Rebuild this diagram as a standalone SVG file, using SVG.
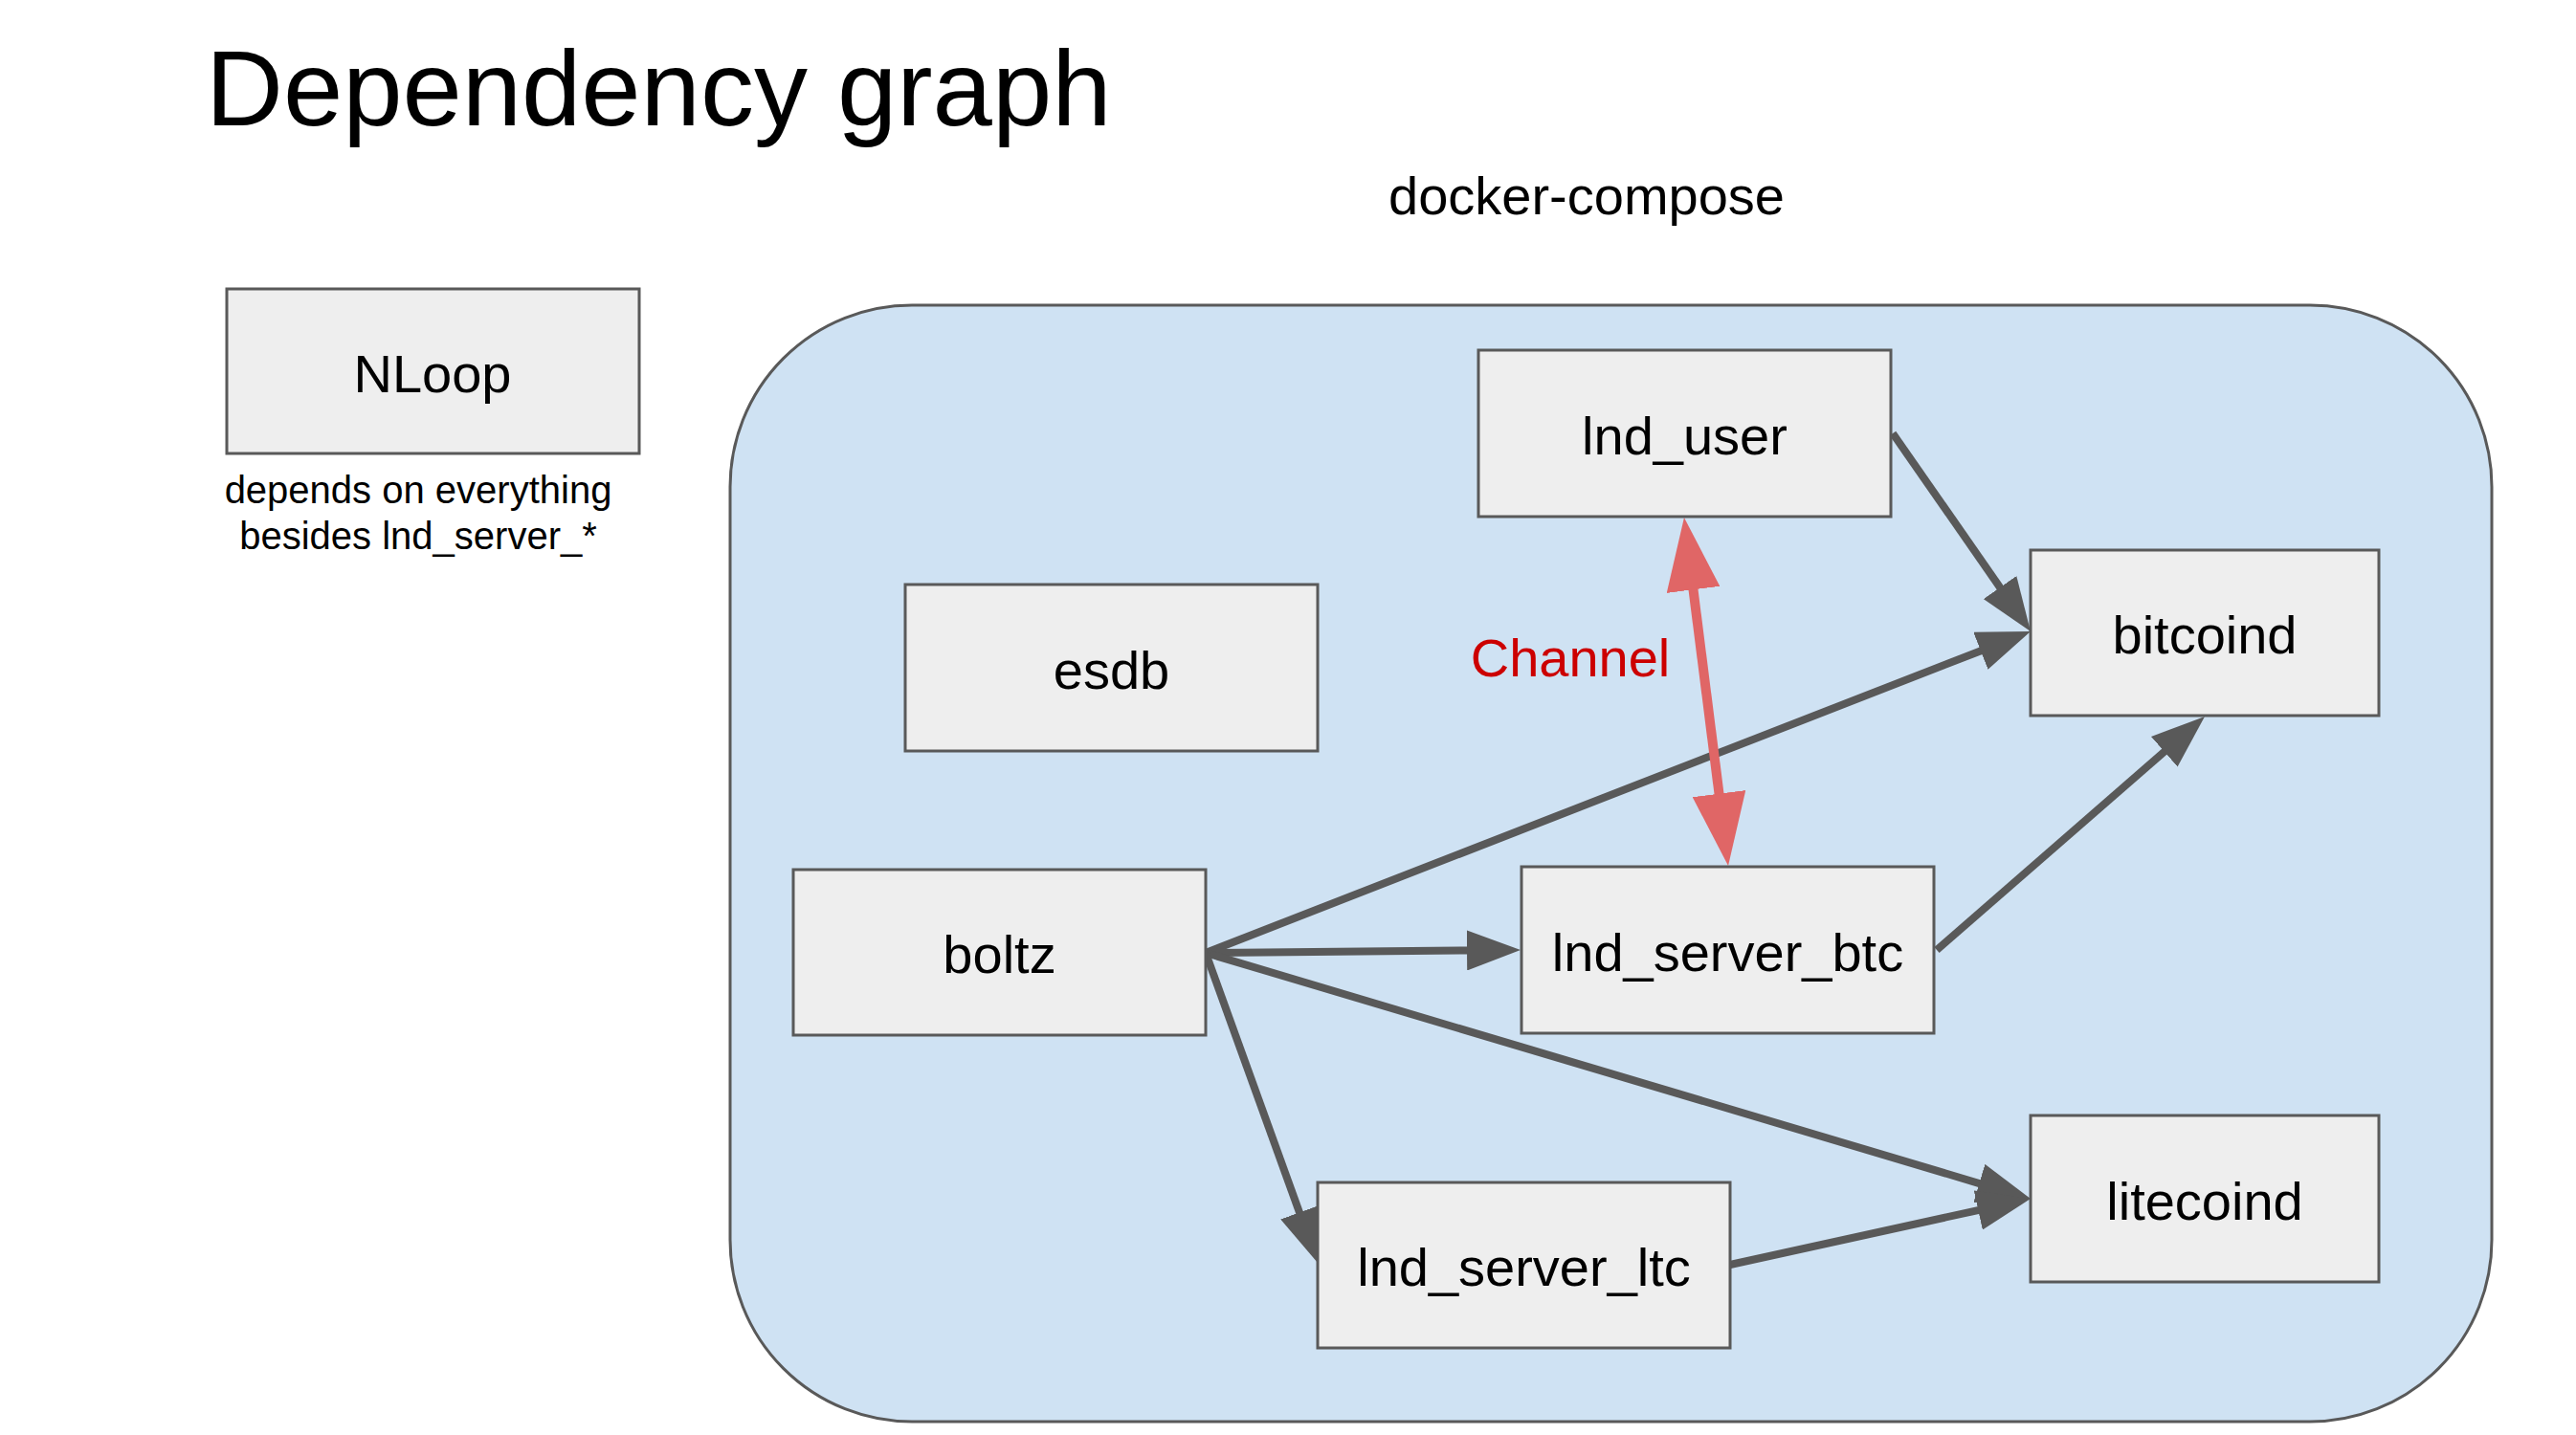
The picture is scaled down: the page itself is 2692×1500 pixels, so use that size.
<svg xmlns="http://www.w3.org/2000/svg" width="2692" height="1500" viewBox="0 0 2692 1500">
<style>
  .box { fill: #eeeeee; stroke: #595959; stroke-width: 3; }
  .lbl { font-family: "Liberation Sans", Arial, sans-serif; font-size: 56px; fill: #000000; text-anchor: middle; }
  .note { font-family: "Liberation Sans", Arial, sans-serif; font-size: 40px; fill: #000000; text-anchor: middle; }
  .conn { stroke: #595959; stroke-width: 8; fill: none; marker-end: url(#arrow); }
  .chan { stroke: #e06666; stroke-width: 10; fill: none; marker-start: url(#arrowRed); marker-end: url(#arrowRed); }
</style>
<defs>
  <marker id="arrow" markerWidth="7" markerHeight="5.25" refX="1" refY="2.625" orient="auto" markerUnits="strokeWidth">
    <path d="M0,0 L7,2.625 L0,5.25 z" fill="#595959"/>
  </marker>
  <marker id="arrowRed" markerWidth="7.6" markerHeight="5.6" refX="1.6" refY="2.8" orient="auto-start-reverse" markerUnits="strokeWidth">
    <path d="M0,0 L7.6,2.8 L0,5.6 z" fill="#e06666"/>
  </marker>
</defs>
<rect width="2692" height="1500" fill="#ffffff"/>
<text x="215" y="131" style="font-family: 'Liberation Sans', Arial, sans-serif; font-size: 112px; fill: #000000;">Dependency graph</text>
<text x="1658" y="224" class="lbl">docker-compose</text>
<g id="container">
  <rect x="763" y="319" width="1841" height="1167" rx="190" ry="190" fill="#cfe2f3" stroke="#595959" stroke-width="3"/>
</g>
<g id="nloop">
  <rect class="box" x="237" y="302" width="431" height="172"/>
  <text class="lbl" x="452" y="410">NLoop</text>
  <text class="note" x="437" y="526">depends on everything</text>
  <text class="note" x="437" y="574">besides lnd_server_*</text>
</g>
<g id="connectors">
  <line class="conn" x1="1978" y1="453" x2="2094.6" y2="620.6"/>
  <line class="conn" x1="1260" y1="996" x2="2077.3" y2="677.4"/>
  <line class="conn" x1="1260" y1="996" x2="1541" y2="993.4"/>
  <line class="conn" x1="2024" y1="993" x2="2267.8" y2="780.5"/>
  <line class="conn" x1="1260" y1="996" x2="2076" y2="1239.3"/>
  <line class="conn" x1="1260" y1="996" x2="1360.7" y2="1274.9"/>
  <line class="conn" x1="1808" y1="1322" x2="2075.1" y2="1263.3"/>
  <line class="chan" x1="1767.5" y1="600.5" x2="1798.5" y2="845.5"/>
  <text x="1641" y="707" class="lbl" style="fill:#cc0000;">Channel</text>
</g>
<g id="lnd_user">
  <rect class="box" x="1545" y="366" width="431" height="174"/>
  <text class="lbl" x="1760.5" y="475">lnd_user</text>
</g>
<g id="bitcoind">
  <rect class="box" x="2122" y="575" width="364" height="173"/>
  <text class="lbl" x="2304" y="683">bitcoind</text>
</g>
<g id="esdb">
  <rect class="box" x="946" y="611" width="431" height="174"/>
  <text class="lbl" x="1161.5" y="720">esdb</text>
</g>
<g id="boltz">
  <rect class="box" x="829" y="909" width="431" height="173"/>
  <text class="lbl" x="1044.5" y="1017">boltz</text>
</g>
<g id="lnd_server_btc">
  <rect class="box" x="1590" y="906" width="431" height="174"/>
  <text class="lbl" x="1805.5" y="1015">lnd_server_btc</text>
</g>
<g id="lnd_server_ltc">
  <rect class="box" x="1377" y="1236" width="431" height="173"/>
  <text class="lbl" x="1592.5" y="1344">lnd_server_ltc</text>
</g>
<g id="litecoind">
  <rect class="box" x="2122" y="1166" width="364" height="174"/>
  <text class="lbl" x="2304" y="1275">litecoind</text>
</g>
</svg>
